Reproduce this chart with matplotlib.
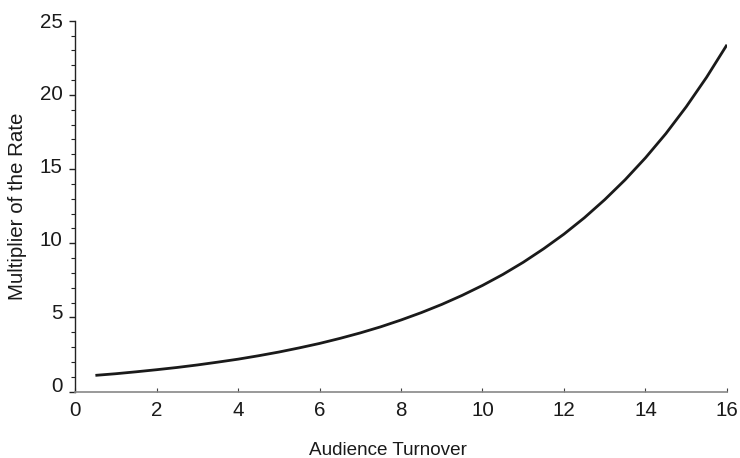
import numpy as np
import matplotlib
matplotlib.use('Agg')
import matplotlib.pyplot as plt
from matplotlib.ticker import MultipleLocator
from matplotlib.transforms import ScaledTranslation

plt.rcParams['font.family'] = ['Liberation Sans', 'DejaVu Sans']

# values
turnover = [0.5, 1, 1.5, 2, 2.5, 3, 3.5, 4, 4.5, 5, 5.5, 6, 6.5, 7, 7.5, 8,
            8.5, 9, 9.5, 10, 10.5, 11, 11.5, 12, 12.5, 13, 13.5, 14, 14.5,
            15, 15.5, 16]
multiplier = [1.10, 1.21, 1.34, 1.48, 1.63, 1.80, 1.99, 2.19, 2.42, 2.67,
              2.95, 3.25, 3.59, 3.96, 4.37, 4.83, 5.33, 5.88, 6.49, 7.16,
              7.90, 8.72, 9.63, 10.62, 11.72, 12.94, 14.28, 15.76, 17.39,
              19.20, 21.19, 23.38]

yticks = [0, 5, 10, 15, 20, 25]
xticks = [0, 2, 4, 6, 8, 10, 12, 14, 16]

fig = plt.figure(figsize=(7.4, 4.58), dpi=100)
ax = fig.add_axes([0.1014, 0.1448, 0.881, 0.810])

ax.plot(turnover, multiplier, color='#1a1a1a', lw=2.0, solid_capstyle='butt')

ax.set_xlim(0, 16)
ax.set_ylim(0, 25)
ax.set_xticks(xticks)
ax.set_yticks(yticks)
ax.yaxis.set_minor_locator(MultipleLocator(1))

ax.spines['top'].set_visible(False)
ax.spines['right'].set_visible(False)
ax.spines['left'].set_color('#222222')
ax.spines['left'].set_linewidth(1.0)
ax.spines['bottom'].set_color('#888888')
ax.spines['bottom'].set_linewidth(1.2)

ax.tick_params(axis='y', which='major', direction='out', length=4, width=1,
               color='#222222', labelsize=14.8, pad=5, labelcolor='#1a1a1a')
ax.tick_params(axis='y', which='minor', direction='out', length=3, width=0.8,
               color='#222222')
ax.tick_params(axis='x', which='major', direction='in', length=3, width=0.8,
               color='#444444', labelsize=14.8, pad=7, labelcolor='#1a1a1a')

# the scanned labels sit a little above their ticks, more so lower down
lift = [7.5, 5.5, 5, 3.5, 2.5, 0.7]
for lab, dy in zip(ax.get_yticklabels(), lift):
    lab.set_transform(lab.get_transform() +
                      ScaledTranslation(0, dy / 100, fig.dpi_scale_trans))

ax.set_xlabel('Audience Turnover', fontsize=13.6, color='#1a1a1a', labelpad=15)
ax.xaxis.set_label_coords(0.48, -0.135)
ax.set_ylabel('Multiplier of the Rate', fontsize=14.8, color='#1a1a1a',
              labelpad=9)

fig.savefig('out.png', dpi=100)
